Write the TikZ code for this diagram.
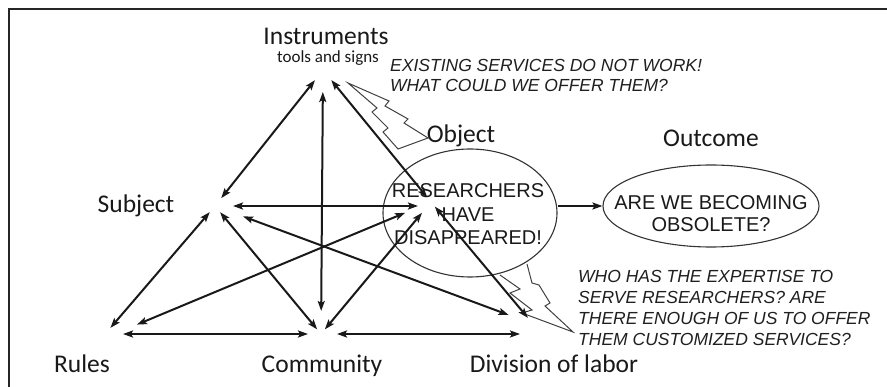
\documentclass[tikz,border=0pt]{standalone}
\usepackage{fontspec}
\setmainfont{Carlito}
\newfontfamily\arialfont{Liberation Sans}
\usetikzlibrary{arrows.meta,calc,shapes.geometric}
\begin{document}
\begin{tikzpicture}[x=1pt,y=-1pt,
  lbl/.style={font=\fontsize{25.5}{28}\selectfont, inner sep=0pt, anchor=base, text=black!90},
  small/.style={font=\fontsize{17}{20}\selectfont, inner sep=0pt, anchor=base, text=black!90},
  arr/.style={{Stealth[length=10pt,width=7pt,inset=2pt]}-{Stealth[length=10pt,width=7pt,inset=2pt]}, line width=2pt, draw=black!90},
  sarr/.style={-{Stealth[length=10pt,width=7pt,inset=2pt]}, line width=2pt, draw=black!90},
  note/.style={font=\arialfont\itshape\fontsize{17.5}{20}\selectfont, inner sep=0pt, anchor=base west, text=black!88},
  caps/.style={font=\arialfont\fontsize{20}{23}\selectfont, inner sep=0pt, anchor=base, text=black!90},
  oval/.style={draw=black!80, ellipse, line width=1.1pt, inner sep=0pt},
  bolt/.style={line width=1pt, draw=black!75, line join=miter}
]
\useasboundingbox (0,0) rectangle (887,387);
\draw[line width=2pt, black!85] (9,387) -- (9,9) -- (887,9);

% apex points
\coordinate (I) at (323,70);
\coordinate (S) at (215,206);
\coordinate (R) at (100,340);
\coordinate (C) at (321,334);
\coordinate (D) at (533,324);
\coordinate (O) at (431,202);

% ellipses
\node[oval, minimum width=174pt, minimum height=128pt] (objell) at (470,213) {};
\node[oval, minimum width=216pt, minimum height=82pt] (outell) at (711,206) {};

% lightning bolts
\draw[bolt] (348,83) -- (389,101) -- (385,106) -- (408,119) -- (404,123) -- (428,138)
  -- (398,149) -- (383,132) -- (388,128) -- (372,112) -- (377,108) -- cycle;
\draw[bolt] (500,275) -- (520,289) -- (510,293) -- (532,310) -- (522,313) -- (573,332)
  -- (545,306) -- (550,303) -- (539,285) -- (532,283) -- (527,264);

% labels
\node[lbl] (instr) at (326,45) {Instruments};
\node[small] (tools) at (328,63) {tools and signs};
\node[lbl] (subj) at (136,213) {Subject};
\node[lbl] (rules) at (82,373) {Rules};
\node[lbl] (comm) at (322,373) {Community};
\node[lbl] (div) at (554,373) {Division of labor};
\node[lbl] (objl) at (461,143) {Object};
\node[lbl] (outl) at (711,147) {Outcome};

% ellipse texts
\node[caps] (ot1) at (468,198) {RESEARCHERS};
\node[caps] (ot2) at (468,222) {HAVE};
\node[caps] (ot3) at (468,245) {DISAPPEARED!};
\node[caps] (uo1) at (711,210) {ARE WE BECOMING};
\node[caps] (uo2) at (711,232) {OBSOLETE?};

% notes
\node[note] (n1) at (390,72) {EXISTING SERVICES DO NOT WORK!};
\node[note] (n2) at (390,92) {WHAT COULD WE OFFER THEM?};
\node[note] (m1) at (578,283) {WHO HAS THE EXPERTISE TO};
\node[note] (m2) at (578,304) {SERVE RESEARCHERS? ARE};
\node[note] (m3) at (578,325) {THERE ENOUGH OF US TO OFFER};
\node[note] (m4) at (578,346) {THEM CUSTOMIZED SERVICES?};

% connectors
\draw[arr, shorten <=13pt, shorten >=10pt] (I) -- (S);
\draw[arr, shorten <=22pt, shorten >=23pt] (I) -- (C);
\draw[arr, shorten <=13pt, shorten >=6pt] (I) -- (O);
\draw[arr, shorten <=8pt, shorten >=16pt] (S) -- (R);
\draw[arr, shorten <=8pt, shorten >=6pt] (S) -- (C);
\draw[arr, shorten <=18pt, shorten >=13pt] (S) -- (O |- S);
\draw[arr, shorten <=30pt, shorten >=26pt] (S) -- (D);
\draw[arr, shorten <=40pt, shorten >=28pt] (R) -- (O);
\draw[arr, shorten <=6pt, shorten >=14pt] (C) -- (O);
\draw[arr, shorten <=6pt, shorten >=8pt] (O) -- (D);
\draw[arr, shorten <=23pt, shorten >=13pt] (R |- C) -- (C);
\draw[arr, shorten <=16pt, shorten >=13pt] (C) -- (D |- C);
\draw[sarr] (objell.east |- outell.west) -- (outell.west);
\end{tikzpicture}
\end{document}
